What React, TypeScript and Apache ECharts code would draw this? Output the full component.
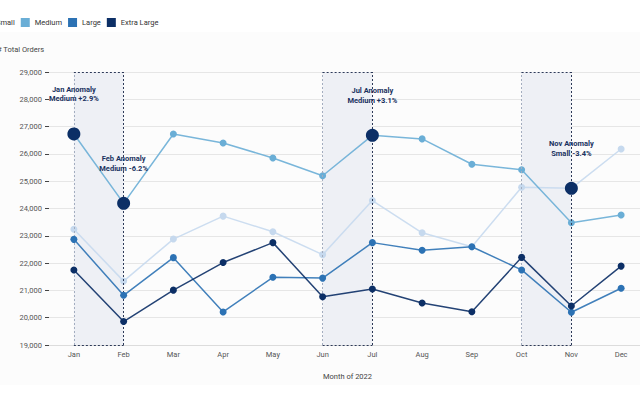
import React, { useEffect, useRef } from "react";
import * as echarts from "echarts";

const months = ["Jan", "Feb", "Mar", "Apr", "May", "Jun", "Jul", "Aug", "Sep", "Oct", "Nov", "Dec"];
const seriesNames = ["Small", "Medium", "Large", "Extra Large"];
const small = [23240, 21340, 22880, 23720, 23150, 22310, 24290, 23110, 22600, 24780, 24740, 26180];
const medium = [26730, 24190, 26730, 26400, 25850, 25200, 26680, 26550, 25620, 25420, 23480, 23760];
const large = [22870, 20820, 22200, 20210, 21480, 21450, 22750, 22470, 22600, 21750, 20200, 21080];
const extraLarge = [21750, 19860, 21010, 22020, 22750, 20770, 21050, 20540, 20220, 22210, 20430, 21890];
const colors = ["#c6d9ee", "#6aaed6", "#2c72b4", "#0c2f66"];

const anomalyMonths = ["Jan", "Feb", "Jul", "Nov"];
const anomalySeries = ["Medium", "Medium", "Medium", "Small"];
const anomalyPct = ["+2.9%", "-6.2%", "+3.1%", "-3.4%"];
const regions = [["Jan", "Feb"], ["Jun", "Jul"], ["Oct", "Nov"]];
const yMin = 19000;
const yMax = 29000;
const yStep = 1000;

const FONT = "Roboto, 'Noto Sans', sans-serif";
const OFF = 30;

export default function App() {
  const ref = useRef<HTMLDivElement>(null);
  useEffect(() => {
    if (!ref.current) return;
    const chart = echarts.init(ref.current, null, { renderer: "svg" });
    const valuesByName: Record<string, number[]> = {
      Small: small,
      Medium: medium,
      Large: large,
      "Extra Large": extraLarge,
    };

    const markLines: any[] = [];
    regions.forEach(([a, b]) => {
      markLines.push([
        { coord: [a, yMin], lineStyle: { color: "#a3adbf", type: [2, 2], width: 1 } },
        { coord: [a, yMax] },
      ]);
      markLines.push([
        { coord: [b, yMin], lineStyle: { color: "#2d3a58", type: [2, 2], width: 1 } },
        { coord: [b, yMax] },
      ]);
      markLines.push([
        { coord: [a, yMax], lineStyle: { color: "#2d3a58", type: [2, 2], width: 1 } },
        { coord: [b, yMax] },
      ]);
      markLines.push([
        { coord: [a, yMin], lineStyle: { color: "#2d3a58", type: [2, 2], width: 1 } },
        { coord: [b, yMin] },
      ]);
    });

    const backgroundSeries = {
      name: "bg",
      type: "line",
      data: small,
      showSymbol: false,
      symbol: "none",
      silent: true,
      z: 1,
      lineStyle: { opacity: 0 },
      tooltip: { show: false },
      markArea: {
        silent: true,
        itemStyle: { color: "#eef0f5" },
        data: regions.map(([a, b]) => [{ xAxis: a, yAxis: yMax }, { xAxis: b, yAxis: yMin }]),
      },
      markLine: {
        silent: true,
        symbol: "none",
        label: { show: false },
        data: markLines,
      },
    };

    const dataSeries = seriesNames.map((name, i) => {
      const pts = anomalyMonths
        .map((m, k) => ({ m, k }))
        .filter(({ k }) => anomalySeries[k] === name)
        .map(({ m, k }) => ({
          coord: [m, valuesByName[name][months.indexOf(m)]],
          value: `${m} Anomaly\n${name} ${anomalyPct[k]}`,
        }));
      return {
        name,
        type: "line",
        data: valuesByName[name],
        symbol: "circle",
        symbolSize: 7,
        z: 3 + i,
        itemStyle: { color: colors[i] },
        lineStyle: { color: colors[i], width: 1.5, opacity: 0.9 },
        markPoint: pts.length
          ? {
              symbol: "circle",
              symbolSize: 13,
              itemStyle: { color: "#0c2f66" },
              label: {
                show: true,
                position: "top",
                distance: 24,
                formatter: (p: any) => p.data.value,
                color: "#1a3260",
                fontFamily: FONT,
                fontSize: 7.5,
                fontWeight: "bold",
                lineHeight: 9.5,
                align: "center",
              },
              data: pts,
            }
          : undefined,
      };
    });

    chart.setOption({
      animation: false,
      backgroundColor: "#ffffff",
      textStyle: { fontFamily: FONT },
      graphic: [
        {
          type: "rect",
          z: -10,
          silent: true,
          shape: { x: 0, y: 32, width: 700, height: 353 },
          style: { fill: "#fcfcfc" },
        },
        {
          type: "text",
          x: OFF - 3,
          y: 49,
          style: {
            text: "# Total Orders",
            fill: "#444",
            fontSize: 7.5,
            fontFamily: FONT,
            verticalAlign: "middle",
          },
        },
      ],
      legend: {
        data: seriesNames,
        left: OFF - 23,
        top: 13,
        itemWidth: 9,
        itemHeight: 9,
        itemGap: 6,
        icon: "rect",
        textStyle: { color: "#333", fontSize: 7.5, fontFamily: FONT },
      },
      grid: { left: 49 + OFF, right: 24, top: 72, bottom: 55 },
      xAxis: {
        type: "category",
        data: months,
        boundaryGap: true,
        name: "Month of 2022",
        nameLocation: "middle",
        nameGap: 27,
        nameTextStyle: { color: "#444", fontSize: 7.5, fontFamily: FONT },
        axisLine: { lineStyle: { color: "#dcdcdc" } },
        axisTick: { alignWithLabel: true, length: 4, lineStyle: { color: "#444" } },
        axisLabel: { color: "#555", fontSize: 7.5, margin: 5, fontFamily: FONT },
        splitLine: { show: false },
      },
      yAxis: {
        type: "value",
        min: yMin,
        max: yMax,
        interval: yStep,
        axisLine: { show: false },
        axisTick: { show: true, length: 4, lineStyle: { color: "#444" } },
        axisLabel: {
          color: "#555",
          fontSize: 7.5,
          margin: 7,
          fontFamily: FONT,
          formatter: (v: number) => v.toLocaleString("en-US"),
        },
        splitLine: { lineStyle: { color: "#e6e6e6" } },
      },
      series: [backgroundSeries, ...dataSeries],
    });
    return () => chart.dispose();
  }, []);
  return (
    <div
      ref={ref}
      style={{ position: "absolute", left: -OFF, top: 0, width: 700, height: 400 }}
    />
  );
}
